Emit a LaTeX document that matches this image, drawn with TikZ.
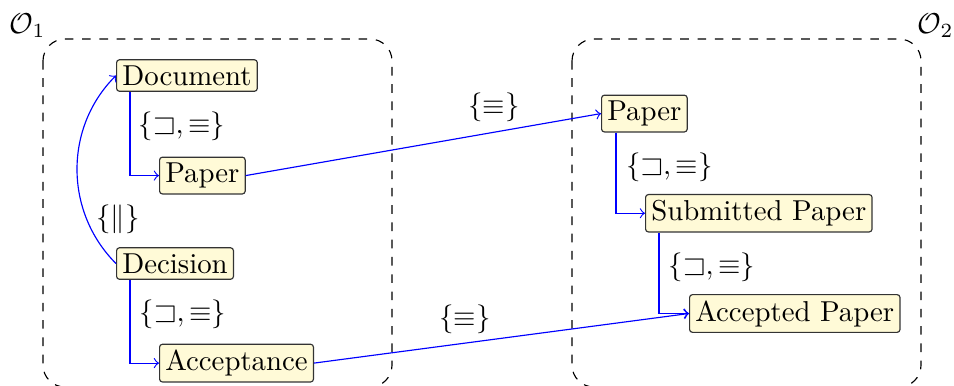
\documentclass[tikz,border=0pt]{standalone}
\usepackage{amssymb}
\usetikzlibrary{calc}
\definecolor{conceptfill}{RGB}{255,250,215}
\tikzset{
  concept/.style={draw=black!80, fill=conceptfill, rounded corners=1pt, inner sep=2pt, anchor=base west},
  link/.style={draw=blue, thin, -to},
  ontobox/.style={draw=black, dashed, thin, rounded corners=7.6pt},
  rel/.style={inner sep=0pt},
}
\begin{document}
\begin{tikzpicture}[x=0.34722pt, y=-0.34722pt]
  \useasboundingbox (0,0) rectangle (954,385);
  \clip (0,0) rectangle (954,385);

  % ontology frames
  \draw[ontobox] (43,39) rectangle (392,387);
  \draw[ontobox] (572,39) rectangle (921,387);
  \node[rel, anchor=base west] (o1) at (9,33) {$\mathcal{O}_1$};
  \node[rel, anchor=base west] (o2) at (917,33) {$\mathcal{O}_2$};

  % concepts of the first ontology
  \node[concept] (doc)  at (116,85.2)  {Document};
  \node[concept] (pap1) at (159,182.6) {Paper};
  \node[concept] (dec)  at (116,273.2) {Decision};
  \node[concept] (acc)  at (159,370.6) {Acceptance};

  % concepts of the second ontology
  \node[concept] (pap2) at (601,120.6) {Paper};
  \node[concept] (sub)  at (645,220.6) {Submitted Paper};
  \node[concept] (accp) at (689,321)   {Accepted Paper};

  % hierarchy links
  \draw[link] ($(doc.south west)+(14,0)$) |- (pap1.west);
  \draw[link] ($(dec.south west)+(14,0)$) |- (acc.west);
  \draw[link] ($(pap2.south west)+(15,0)$) |- (sub.west);
  \draw[link] ($(sub.south west)+(14,0)$) |- (accp.west);
  \draw[link] (dec.west) to[bend left=45] (doc.west);

  % alignments between the ontologies
  \draw[link] (pap1.east) -- (pap2.west);
  \draw[link] (acc.east) -- (accp.west);

  % relation labels
  \node[rel] (r1) at (182,126) {$\{\sqsupset,\equiv\}$};
  \node[rel] (r2) at (183,314) {$\{\sqsupset,\equiv\}$};
  \node[rel] (r3) at (669.5,167) {$\{\sqsupset,\equiv\}$};
  \node[rel] (r4) at (712,267) {$\{\sqsupset,\equiv\}$};
  \node[rel] (r5) at (118,219) {$\{\|\}$};
  \node[rel] (r6) at (494,107.5) {$\{\equiv\}$};
  \node[rel] (r7) at (465,319) {$\{\equiv\}$};
\end{tikzpicture}
\end{document}
